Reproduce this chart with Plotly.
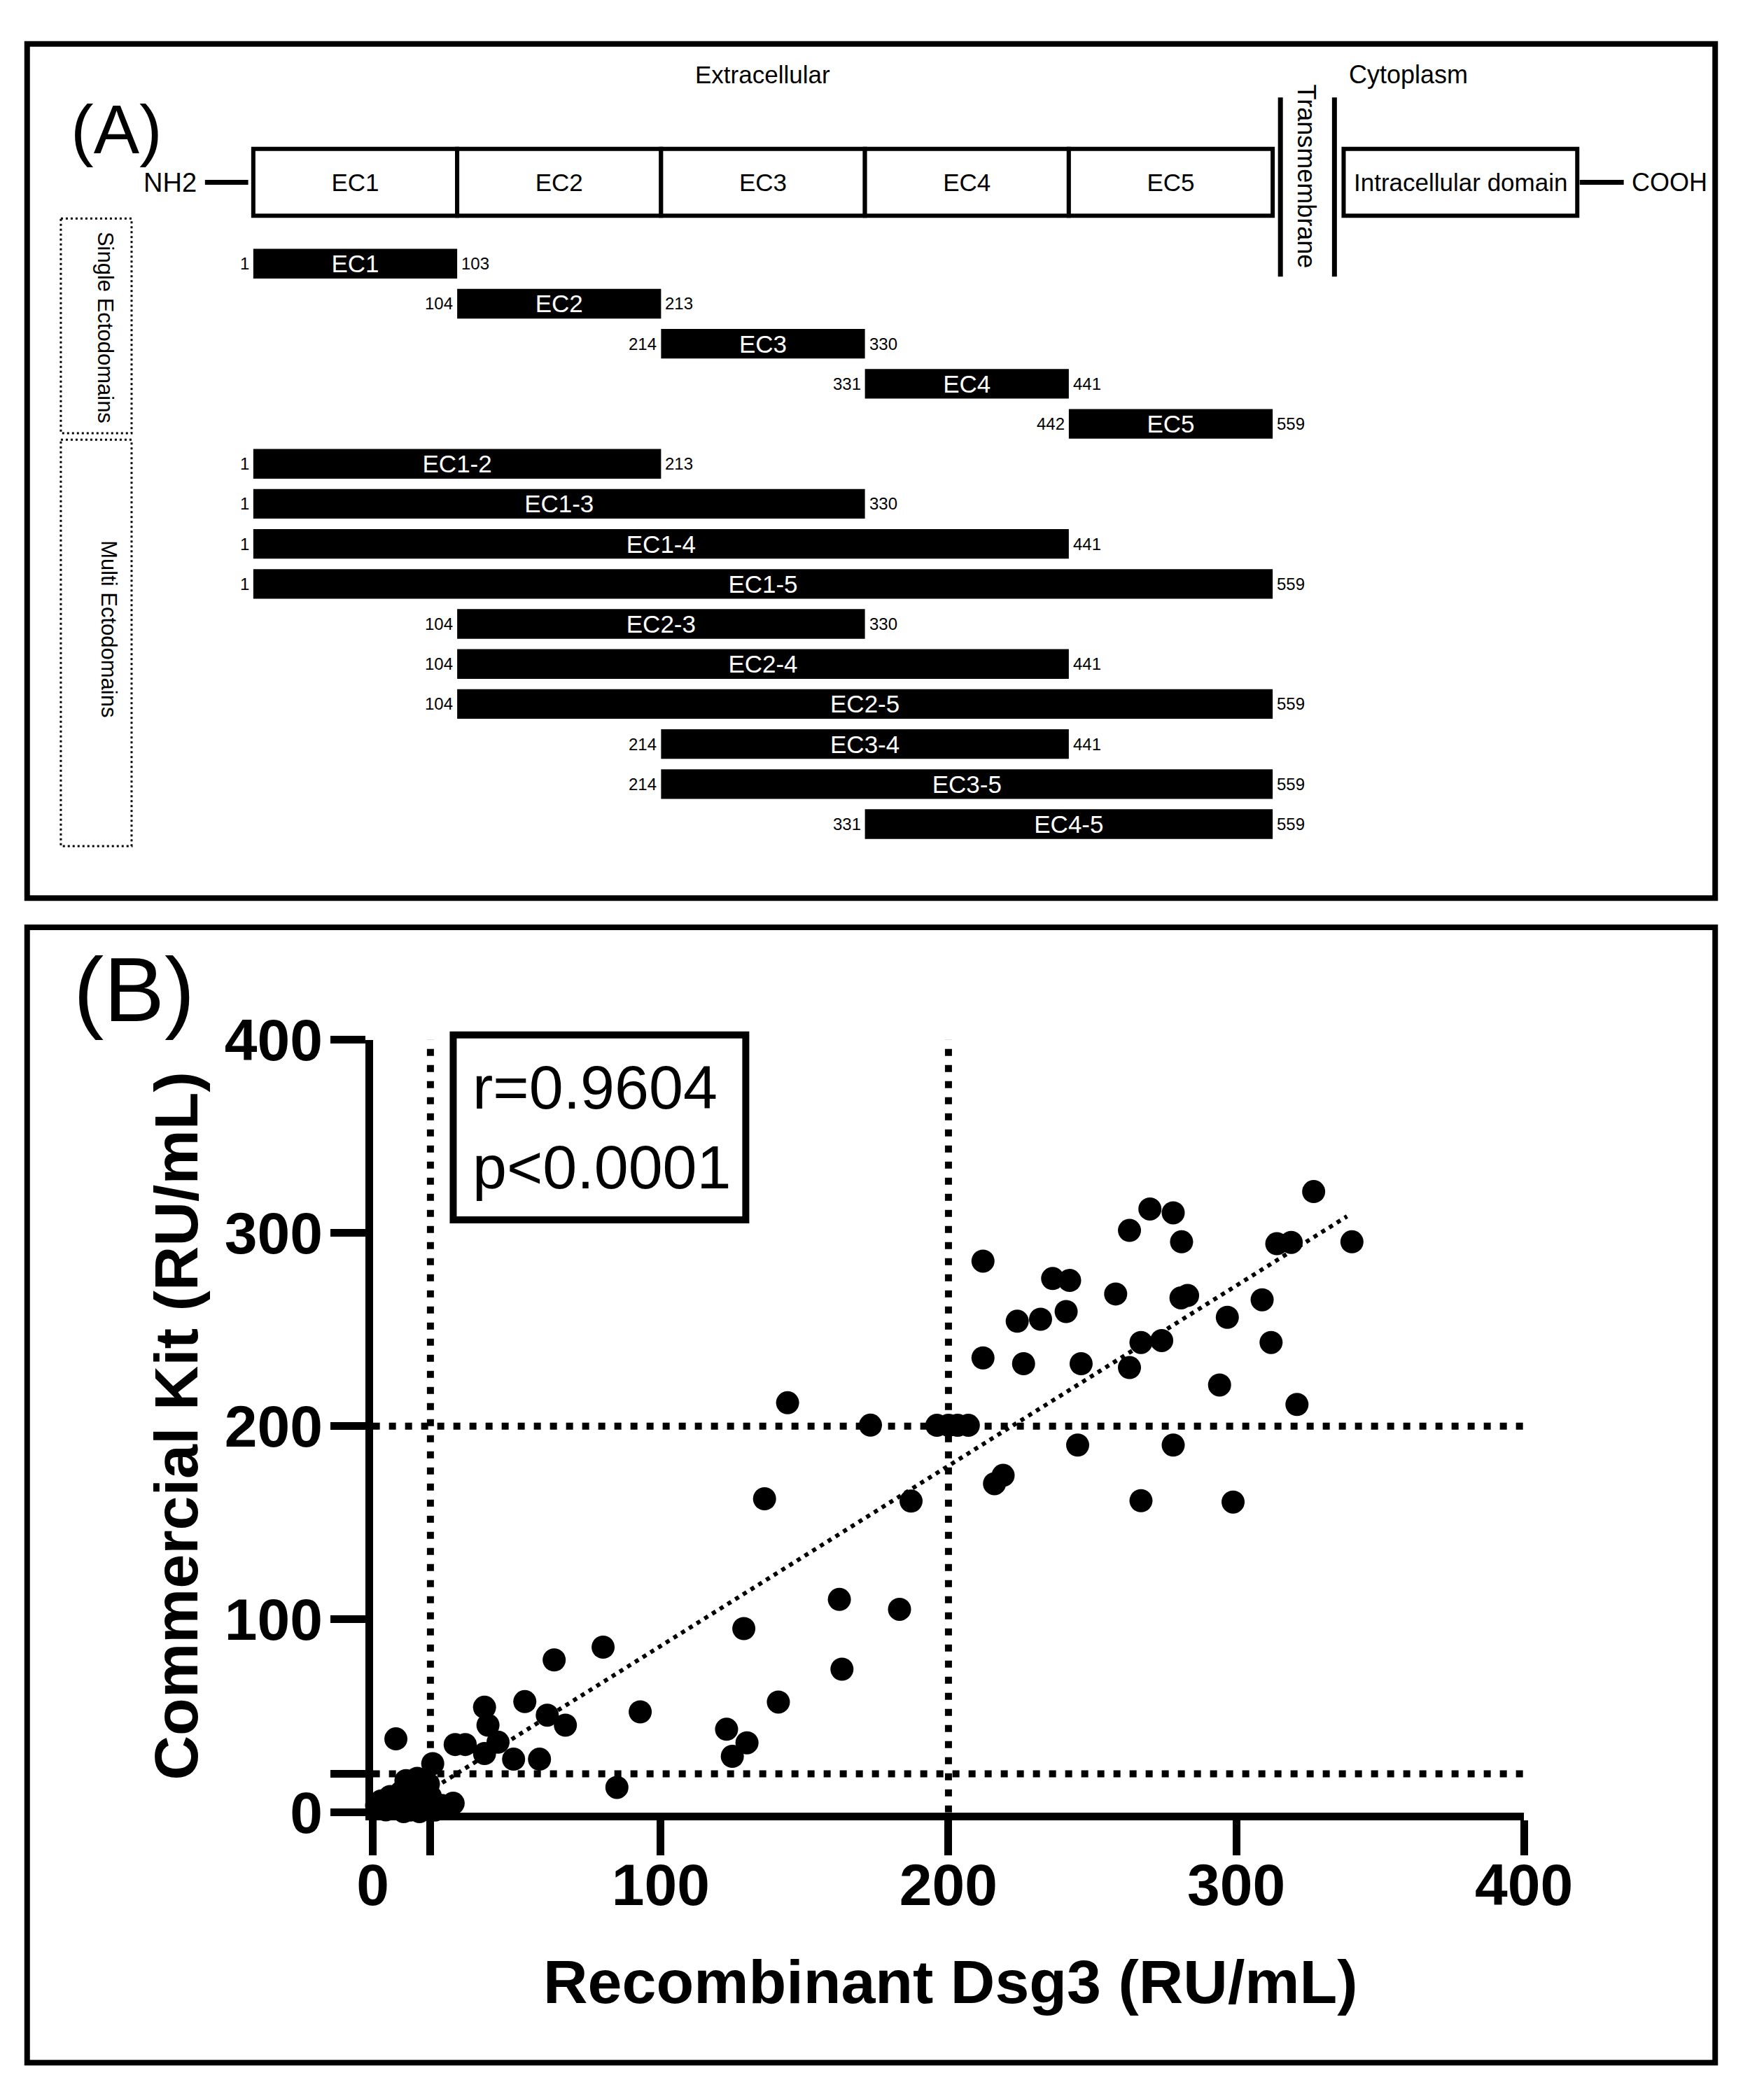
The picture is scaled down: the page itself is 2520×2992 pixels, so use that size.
import plotly.graph_objects as go

# ---- panel A: Dsg3 constructs ----
domains = ["EC1", "EC2", "EC3", "EC4", "EC5"]
constructs = ["EC1", "EC2", "EC3", "EC4", "EC5",
              "EC1-2", "EC1-3", "EC1-4", "EC1-5",
              "EC2-3", "EC2-4", "EC2-5",
              "EC3-4", "EC3-5", "EC4-5"]
first_domain = [1, 2, 3, 4, 5, 1, 1, 1, 1, 2, 2, 2, 3, 3, 4]
last_domain = [1, 2, 3, 4, 5, 2, 3, 4, 5, 3, 4, 5, 4, 5, 5]
start_res = [1, 104, 214, 331, 442, 1, 1, 1, 1, 104, 104, 104, 214, 214, 331]
end_res = [103, 213, 330, 441, 559, 213, 330, 441, 559, 330, 441, 559, 441, 559, 559]

# ---- panel B: recombinant Dsg3 vs commercial kit ----
dsg3 = [326.9, 270.0, 278.1, 262.9, 281.0, 314.1, 319.1, 340.2, 212.0, 236.2,
        242.1, 258.1, 280.8, 283.1, 309.0, 223.9, 232.0, 240.9, 296.9, 266.9,
        274.1, 312.1, 212.0, 226.1, 246.1, 262.9, 294.2, 321.1, 244.9, 278.1,
        219.0, 216.0, 266.9, 298.9, 196.0, 200.0, 203.2, 206.9, 172.9, 144.1,
        136.1, 187.0, 162.1, 183.0, 128.9, 163.0, 92.9, 140.9, 122.9, 130.0,
        124.9, 8.0, 20.8, 38.8, 40.0, 38.8, 43.5, 52.8, 60.6, 66.9,
        48.9, 57.9, 28.6, 32.1, 84.8, 63.0, 80.0,
        11.5, 15.4, 19.3, 9.9, 6.0, 2.9, 8.4, 13.0, 17.7, 24.0,
        27.9, 16.2, 4.5, 1.3, 13.8, 20.0, 7.6, 11.5, 21.6, 10.7, 16.2]
kit = [321.4, 312.4, 310.4, 301.3, 295.4, 294.4, 295.1, 295.4, 285.4, 276.4,
       275.4, 268.4, 266.4, 267.6, 265.4, 254.3, 255.3, 259.3, 256.3, 243.3,
       244.3, 243.3, 235.3, 232.3, 232.3, 230.3, 221.3, 211.2, 190.2, 190.2,
       174.5, 170.2, 161.4, 160.7, 200.4, 200.4, 200.4, 200.4, 200.5, 212.1,
       162.4, 161.2, 110.3, 105.2, 95.2, 74.2, 52.1, 57.2, 43.1, 36.1,
       29.1, 38.1, 25.3, 54.5, 45.2, 30.5, 36.4, 57.4, 50.4, 45.2,
       27.6, 27.6, 35.2, 35.2, 13.0, 79.0, 85.6,
       16.5, 17.7, 14.7, 10.6, 8.3, 6.0, 2.5, 1.3, 2.5, 3.6,
       4.8, 8.3, 1.4, 3.6, 10.6, 8.3, 6.0, 6.0, 1.3, 0.5, 0.5]
trend_x = [8.0, 338.5]
trend_y = [0.4, 308.6]
cutoff_low = 20
cutoff_high = 200
r_value = "0.9604"
p_value = "0.0001"

SANS = "Liberation Sans, Arial, Helvetica"

rows = list(range(len(constructs)))
bar_base = [f - 1 for f in first_domain]
bar_len = [l - f + 1 for f, l in zip(first_domain, last_domain)]
bar_end = [b + n for b, n in zip(bar_base, bar_len)]

fig = go.Figure()

# schematic of the full protein
fig.add_trace(go.Bar(
    orientation="h", y=[-2.033] * len(domains), x=[1] * len(domains),
    base=list(range(len(domains))), width=1.674,
    marker=dict(color="white", line=dict(color="black", width=6)),
    text=domains, textposition="inside", insidetextanchor="middle",
    constraintext="none", textangle=0,
    textfont=dict(family=SANS, size=35, color="black"),
    xaxis="x2", yaxis="y2", hoverinfo="skip"))

# construct bars
fig.add_trace(go.Bar(
    orientation="h", y=rows, x=bar_len, base=bar_base, width=0.74,
    marker=dict(color="black", line=dict(width=0)),
    text=constructs, textposition="inside", insidetextanchor="middle",
    constraintext="none", textangle=0,
    textfont=dict(family=SANS, size=35, color="white"),
    xaxis="x2", yaxis="y2"))

# ---- panel B traces ----
dots = dict(color="black", width=10, dash="10px,13px")
fig.add_trace(go.Scatter(x=[cutoff_low, cutoff_low], y=[0, 400], mode="lines", line=dots))
fig.add_trace(go.Scatter(x=[cutoff_high, cutoff_high], y=[0, 400], mode="lines", line=dots))
fig.add_trace(go.Scatter(x=[0, 400], y=[cutoff_low, cutoff_low], mode="lines", line=dots))
fig.add_trace(go.Scatter(x=[0, 400], y=[cutoff_high, cutoff_high], mode="lines", line=dots))
fig.add_trace(go.Scatter(x=trend_x, y=trend_y, mode="lines",
                         line=dict(color="black", width=6, dash="6px,7px")))
fig.add_trace(go.Scatter(x=dsg3, y=kit, mode="markers", cliponaxis=False,
                         marker=dict(color="black", size=33)))

axis_b = dict(range=[0, 400], showgrid=False, zeroline=False, showline=True,
              linecolor="black", linewidth=11, ticks="outside", ticklen=50,
              tickwidth=11, tickcolor="black",
              tickvals=[0, 20, 100, 200, 300, 400],
              ticktext=["0", "", "100", "200", "300", "400"],
              tickfont=dict(family=SANS, size=84, color="black", weight="bold"))

shapes = []
# transmembrane
for xv in (5.038, 5.303):
    shapes.append(dict(type="line", xref="x2", yref="y2", x0=xv, x1=xv,
                       y0=-4.151, y1=0.323, line=dict(color="black", width=7)))
# intracellular box
shapes.append(dict(type="rect", xref="x2", yref="y2", x0=5.348, x1=6.494,
                   y0=-2.87, y1=-1.196, line=dict(color="black", width=6)))
# termini connectors
shapes.append(dict(type="line", xref="x2", yref="y2", x0=-0.237, x1=-0.025,
                   y0=-2.033, y1=-2.033, line=dict(color="black", width=7)))
shapes.append(dict(type="line", xref="x2", yref="y2", x0=6.506, x1=6.722,
                   y0=-2.033, y1=-2.033, line=dict(color="black", width=7)))
# group boxes
for y0, y1 in ((-1.128, 4.235), (4.397, 14.55)):
    shapes.append(dict(type="rect", xref="x2", yref="y2", x0=-0.944, x1=-0.597,
                       y0=y0, y1=y1, line=dict(color="black", width=3, dash="3px,4px")))
# panel frames
shapes.append(dict(type="rect", xref="paper", yref="paper", x0=0.0032, x1=0.9968,
                   y0=0.5762, y1=0.9973, line=dict(color="black", width=8)))
shapes.append(dict(type="rect", xref="paper", yref="paper", x0=0.0032, x1=0.9968,
                   y0=0.0020, y1=0.5618, line=dict(color="black", width=8)))
# stats box
shapes.append(dict(type="rect", xref="paper", yref="paper", x0=0.2540, x1=0.4262,
                   y0=0.4175, y1=0.5087, line=dict(color="black", width=10)))

def note(text, x, y, size, family=SANS, xref="x2", yref="y2", angle=0,
         xanchor="center", yanchor="middle", weight="normal", align="center",
         xshift=0):
    return dict(text=text, x=x, y=y, xref=xref, yref=yref, showarrow=False,
                textangle=angle, xanchor=xanchor, yanchor=yanchor, align=align,
                xshift=xshift,
                font=dict(family=family, size=size, color="black", weight=weight))

annotations = [
    note("Extracellular", 2.499, -4.72, 35),
    note("Cytoplasm", 5.667, -4.72, 36),
    note("Intracellular domain", 5.921, -2.033, 35),
    note("NH2", -0.27, -2.033, 38, xanchor="right"),
    note("COOH", 6.948, -2.033, 36),
    note("Transmembrane", 5.167, -2.177, 36, angle=90),
    note("Single Ectodomains", -0.726, 1.6, 31, angle=90),
    note("Multi Ectodomains", -0.711, 9.13, 31, angle=90),
    note("(A)", 0.056, 0.955, 98, xref="paper", yref="paper"),
    note("(B)", 0.066, 0.531, 130, xref="paper", yref="paper"),
    note("r=" + r_value + "<br>p<" + p_value, 0.2647, 0.4633, 88,
         xref="paper", yref="paper", xanchor="left", align="left"),
    note("Recombinant Dsg3 (RU/mL)", 0.5466, 0.0418, 88,
         xref="paper", yref="paper", weight="bold"),
    note("Commercial Kit (RU/mL)", 0.0909, 0.3158, 88,
         xref="paper", yref="paper", angle=-90, weight="bold"),
]
# residue numbers at both ends of every construct
annotations += [note(str(v), x, r, 24, xanchor="right", xshift=-4)
                for v, x, r in zip(start_res, bar_base, rows)]
annotations += [note(str(v), x, r, 24, xanchor="left", xshift=4)
                for v, x, r in zip(end_res, bar_end, rows)]

fig.update_layout(
    width=2520, height=2992, margin=dict(l=0, r=0, t=0, b=0),
    paper_bgcolor="white", plot_bgcolor="white", showlegend=False,
    barmode="overlay",
    xaxis=dict(domain=[0.2067, 0.8843], anchor="y", ticklabelstandoff=-30, **axis_b),
    yaxis=dict(domain=[0.12533, 0.50635], anchor="x", ticklabelstandoff=-6, **axis_b),
    xaxis2=dict(domain=[0, 1], range=[-1.136, 7.197], visible=False, anchor="y2"),
    yaxis2=dict(domain=[0.55, 1], range=[17.175, -5.626], visible=False, anchor="x2"),
    shapes=shapes, annotations=annotations,
)

fig.write_html("out.html")
